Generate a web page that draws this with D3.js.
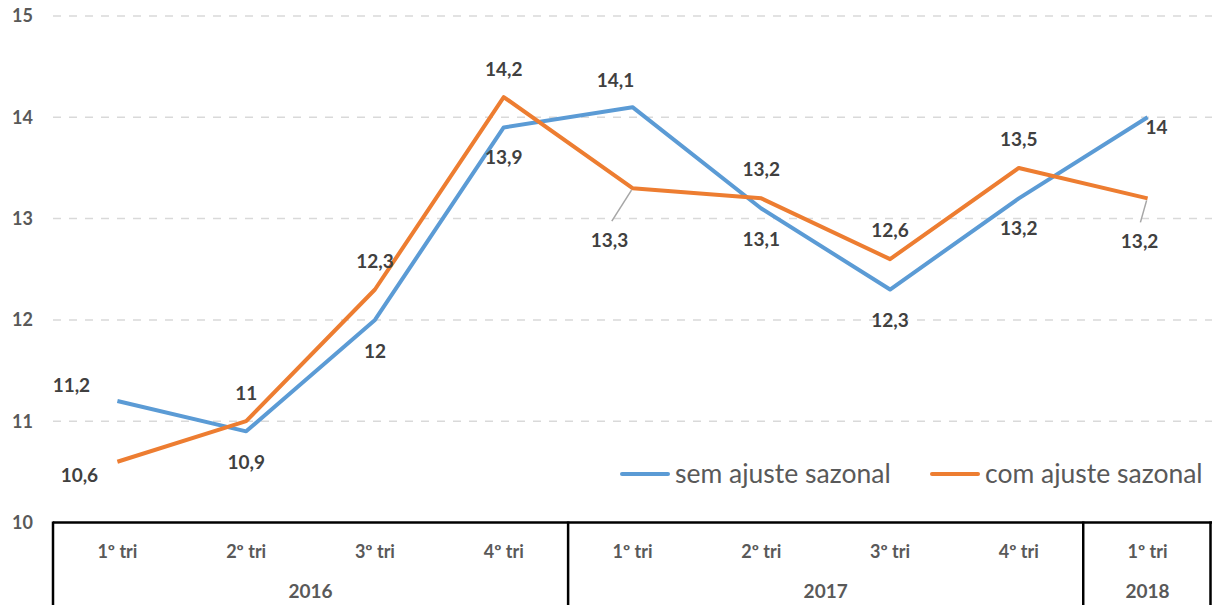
<!DOCTYPE html>
<html>
<head>
<meta charset="utf-8">
<script src="https://cdn.jsdelivr.net/npm/d3@7"></script>
<style>
    body { margin: 0; background: #fff; }
    svg { display: block; font-family: Lato, "Liberation Sans", sans-serif; }
</style>
</head>
<body>
<svg id="chart" width="1212" height="605"></svg>
<script>
// Chart data
const quarters = ["1º tri", "2º tri", "3º tri", "4º tri", "1º tri", "2º tri", "3º tri", "4º tri", "1º tri"];
const years = [
    { label: "2016", count: 4 },
    { label: "2017", count: 4 },
    { label: "2018", count: 1 }
];
const semAjuste = [11.2, 10.9, 12, 13.9, 14.1, 13.1, 12.3, 13.2, 14];
const comAjuste = [10.6, 11, 12.3, 14.2, 13.3, 13.2, 12.6, 13.5, 13.2];
const yTicks = [10, 11, 12, 13, 14, 15];
const seriesNames = ["sem ajuste sazonal", "com ajuste sazonal"];

// label offsets (dx, dy) from each point, third item = draw a leader line
const semLabelPos = [[-46, -16], [0, 31], [0, 31], [0, 30], [-17, -27], [0, 31], [0, 31], [0, 30], [9, 10]];
const comLabelPos = [[-38, 14], [0, -28], [0, -28], [0, -28], [-23, 52, true], [0, -29], [0, -29], [0, -29], [-8, 43, true]];

const width = 1212;
const height = 605;
const margin = { top: 16, right: 0, bottom: 82, left: 53 };

const svg = d3.select("#chart");

const x = d3.scalePoint()
    .domain(d3.range(quarters.length))
    .range([margin.left, width - margin.right])
    .padding(0.5);

const y = d3.scaleLinear()
    .domain([10, 15])
    .range([height - margin.bottom - 0.5, margin.top]);

// Gridlines
svg.append("g")
    .selectAll("line")
    .data(yTicks.filter(t => t > 10))
    .enter()
    .append("line")
    .attr("x1", margin.left)
    .attr("x2", width)
    .attr("y1", d => y(d))
    .attr("y2", d => y(d))
    .attr("stroke", "#d9d9d9")
    .attr("stroke-width", 1.5)
    .attr("stroke-dasharray", "8,8");

// Y axis labels
svg.append("g")
    .selectAll("text")
    .data(yTicks)
    .enter()
    .append("text")
    .attr("x", 33)
    .attr("y", d => y(d))
    .attr("dy", "0.35em")
    .attr("text-anchor", "end")
    .attr("font-size", 18)
    .attr("font-weight", "bold")
    .attr("fill", "#595959")
    .text(d => d);

// Category table under the plot
const step = x.step();
const axisTop = y(10);
const table = svg.append("g");

table.append("line")
    .attr("x1", margin.left).attr("x2", width)
    .attr("y1", axisTop).attr("y2", axisTop)
    .attr("stroke", "#000").attr("stroke-width", 2.5);

let start = 0;
const bounds = [0];
years.forEach(yr => { start += yr.count; bounds.push(start); });

table.selectAll(".sep")
    .data(bounds)
    .enter()
    .append("line")
    .attr("class", "sep")
    .attr("x1", d => Math.min(x(0) - step / 2 + d * step, width - 1.5))
    .attr("x2", d => Math.min(x(0) - step / 2 + d * step, width - 1.5))
    .attr("y1", axisTop - 1)
    .attr("y2", height)
    .attr("stroke", "#000")
    .attr("stroke-width", 2.5);

table.selectAll(".q")
    .data(quarters)
    .enter()
    .append("text")
    .attr("x", (d, i) => x(i))
    .attr("y", axisTop + 29)
    .attr("dy", "0.35em")
    .attr("text-anchor", "middle")
    .attr("font-size", 18)
    .attr("font-weight", "bold")
    .attr("fill", "#595959")
    .text(d => d);

table.selectAll(".yr")
    .data(years)
    .enter()
    .append("text")
    .attr("x", (d, i) => x(0) - step / 2 + (bounds[i] + d.count / 2) * step)
    .attr("y", axisTop + 69)
    .attr("dy", "0.35em")
    .attr("text-anchor", "middle")
    .attr("font-size", 19)
    .attr("font-weight", "bold")
    .attr("fill", "#595959")
    .text(d => d.label);

// Lines
const line = d3.line()
    .x((d, i) => x(i))
    .y(d => y(d));

const series = [
    { name: seriesNames[0], values: semAjuste, color: "#5b9bd5", pos: semLabelPos },
    { name: seriesNames[1], values: comAjuste, color: "#ed7d31", pos: comLabelPos }
];

series.forEach(s => {
    svg.append("path")
        .datum(s.values)
        .attr("fill", "none")
        .attr("stroke", s.color)
        .attr("stroke-width", 4)
        .attr("stroke-linejoin", "round")
        .attr("d", line);
});

// Data labels
series.forEach(s => {
    const g = svg.append("g");
    s.values.forEach((v, i) => {
        const [dx, dy, leader] = s.pos[i];
        if (leader) {
            g.append("line")
                .attr("x1", x(i) - 1)
                .attr("y1", y(v) + 2)
                .attr("x2", x(i) + dx * 0.9)
                .attr("y2", y(v) + dy - 19)
                .attr("stroke", "#a6a6a6")
                .attr("stroke-width", 1.5);
        }
        g.append("text")
            .attr("x", x(i) + dx)
            .attr("y", y(v) + dy)
            .attr("dy", "0.35em")
            .attr("text-anchor", "middle")
            .attr("font-size", 19)
            .attr("font-weight", "bold")
            .attr("fill", "#404040")
            .text(String(v).replace(".", ","));
    });
});

// Legend
const legend = svg.append("g")
    .attr("transform", "translate(622, 474)");

const legendX = [0, 310];
series.forEach((s, i) => {
    legend.append("line")
        .attr("x1", legendX[i]).attr("x2", legendX[i] + 46)
        .attr("y1", 0).attr("y2", 0)
        .attr("stroke", s.color)
        .attr("stroke-width", 4)
        .attr("stroke-linecap", "round");
    legend.append("text")
        .attr("x", legendX[i] + 53)
        .attr("y", 0)
        .attr("dy", "0.35em")
        .attr("font-size", 26.5)
        .attr("fill", "#595959")
        .text(s.name);
});
</script>
</body>
</html>
